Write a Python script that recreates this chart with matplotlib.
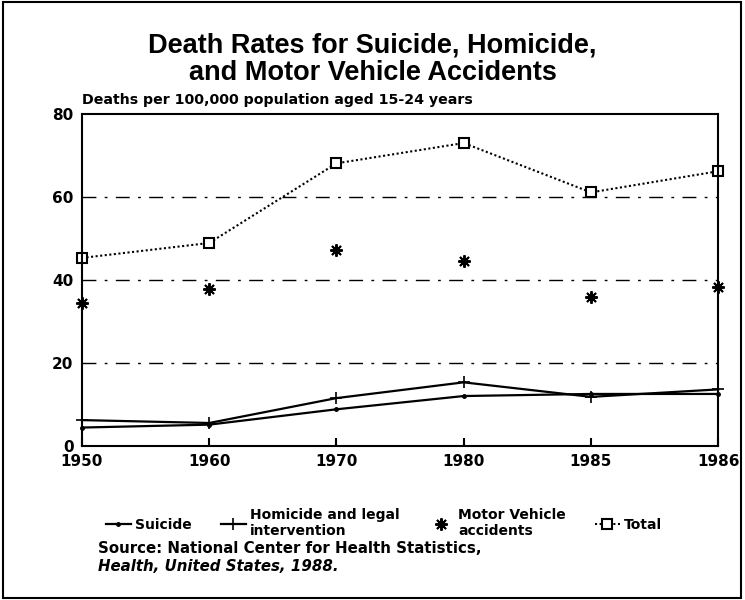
import matplotlib.pyplot as plt
from matplotlib.patches import Rectangle

plt.rcParams['font.family'] = ['Liberation Sans', 'DejaVu Sans']

years = ["1950", "1960", "1970", "1980", "1985", "1986"]
suicide = [4.4, 5.1, 8.8, 12.0, 12.5, 12.5]
homicide = [6.2, 5.5, 11.5, 15.3, 11.8, 13.6]
motor = [34.4, 37.7, 47.2, 44.5, 35.8, 38.4]
total = [45.3, 48.9, 68.1, 73.0, 61.1, 66.2]

x = list(range(len(years)))
heavy = ['DejaVu Sans']

fig = plt.figure(figsize=(7.45, 6), dpi=100)
ax = fig.add_axes([0.110, 0.257, 0.854, 0.553])

# broken-looking reference lines
for g in [20, 40, 60]:
    ax.axhline(g, color='black', lw=1.0, ls=(0, (10, 6, 2, 6)), zorder=1)

ax.plot(x, suicide, color='black', lw=1.6, marker='o', ms=2.5, clip_on=False,
        label='Suicide')
ax.plot(x, homicide, color='black', lw=1.6, marker='+', ms=9, mew=1.2,
        clip_on=False, label='Homicide and legal\nintervention')
ax.plot(x, motor, color='black', ls='none', marker=(8, 2, 0), ms=9, mew=1.4,
        clip_on=False, label='Motor Vehicle\naccidents')
ax.plot(x, total, color='black', lw=1.5, ls=(0, (1, 1.2)), marker='s', ms=7,
        mfc='white', mew=1.5, clip_on=False, label='Total')

ax.set_xlim(0, 5)
ax.set_ylim(0, 80)
ax.set_xticks(x)
ax.set_xticklabels(years, fontsize=11, fontweight='bold', family=heavy)
ax.set_yticks([0, 20, 40, 60, 80])
ax.set_yticklabels(['0', '20', '40', '60', '80'], fontsize=11, fontweight='bold',
                   family=heavy)
ax.tick_params(axis='x', direction='in', length=6, width=1.5, pad=6)
ax.tick_params(axis='y', length=0, pad=6)
for s in ax.spines.values():
    s.set_linewidth(1.5)

fig.text(0.5, 0.912, "Death Rates for Suicide, Homicide,", ha='center',
         fontsize=19.5, fontweight='bold')
fig.text(0.5, 0.867, "and Motor Vehicle Accidents", ha='center',
         fontsize=19.5, fontweight='bold')
fig.text(0.110, 0.826, "Deaths per 100,000 population aged 15-24 years",
         fontsize=10.2, fontweight='bold', family=heavy)

fig.legend(loc='upper left', bbox_to_anchor=(0.142, 0.153), ncol=4, frameon=False,
           prop={'weight': 'bold', 'size': 10, 'family': heavy}, handlelength=1.8,
           handletextpad=0.3, columnspacing=2.1, labelspacing=0.2,
           borderaxespad=0, borderpad=0)

fig.text(0.132, 0.078, "Source: National Center for Health Statistics,",
         fontsize=10.8, fontweight='bold', family=heavy)
fig.text(0.132, 0.048, "Health, United States, 1988.", fontsize=10.8,
         fontweight='bold', style='italic', family=heavy)

fig.patches.append(Rectangle((0.004, 0.004), 0.99, 0.992, transform=fig.transFigure,
                             fill=False, lw=1.5, edgecolor='black'))

fig.savefig("out.png", dpi=100)
